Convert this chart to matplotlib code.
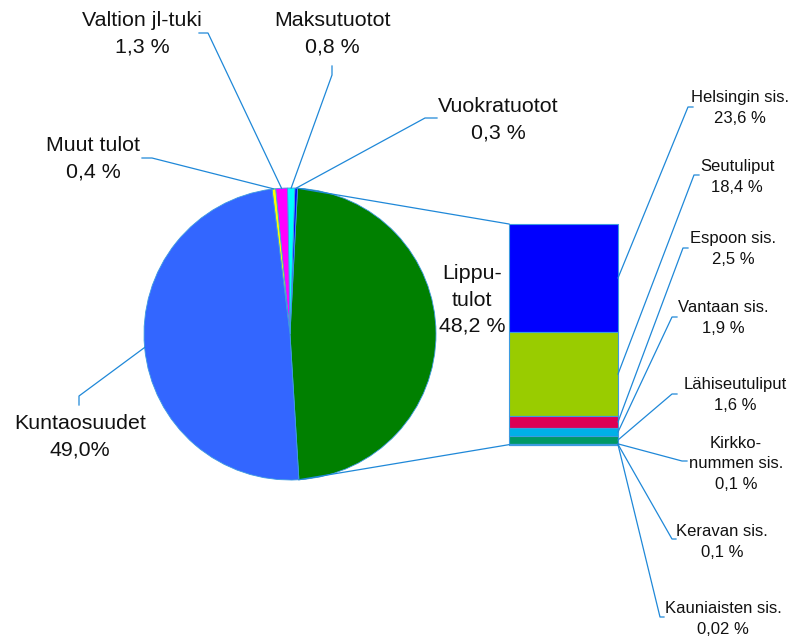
import numpy as np
import matplotlib
matplotlib.use('Agg')
import matplotlib.pyplot as plt

# 饼图数据（从"Lipputulot"开始，依次排列）
pie_labels = ['Lippu-\ntulot', 'Vuokratuotot', 'Maksutuotot', 'Valtion jl-tuki', 'Muut tulot', 'Kuntaosuudet']
pie_values = [48.2, 0.3, 0.8, 1.3, 0.4, 49.0]
pie_texts = ['48,2 %', '0,3 %', '0,8 %', '1,3 %', '0,4 %', '49,0%']
pie_colors = ['#008000', '#0000ff', '#00ffff', '#ff00ff', '#ffff00', '#3366ff']

# 堆叠柱数据（Lipputulot 的分解，从上到下）
bar_labels = ['Helsingin sis.', 'Seutuliput', 'Espoon sis.', 'Vantaan sis.', 'Lähiseutuliput',
              'Kirkko-\nnummen sis.', 'Keravan sis.', 'Kauniaisten sis.']
bar_values = [23.6, 18.4, 2.5, 1.9, 1.6, 0.1, 0.1, 0.02]
bar_texts = ['23,6 %', '18,4 %', '2,5 %', '1,9 %', '1,6 %', '0,1 %', '0,1 %', '0,02 %']
bar_colors = ['#0000ff', '#99cc00', '#dd0055', '#00b0e8', '#009966', '#0070c0', '#0070c0', '#0070c0']

LINE = '#1f88d8'


def main():
    plt.rcParams['font.family'] = ['Liberation Sans', 'DejaVu Sans']
    fig = plt.figure(figsize=(7.93, 6.40), dpi=100)
    ax = fig.add_axes([0, 0, 1, 1])

    # 饼图 —— 坐标为像素，y 轴向下
    cx, cy, r = 290, 334, 146
    start = 86.5
    wedges, _ = ax.pie(pie_values, colors=pie_colors, startangle=start, counterclock=False,
                       center=(cx, cy), radius=r,
                       wedgeprops=dict(edgecolor='#3d9be0', linewidth=0.6))
    ax.set_xlim(0, 793)
    ax.set_ylim(640, 0)
    ax.set_aspect('equal')
    ax.axis('off')

    def edge_point(deg):
        # 数据角度 -> 像素点（y 轴翻转）
        a = np.deg2rad(deg)
        return cx + r * np.cos(a), cy + r * np.sin(a)

    # 饼图标签位置 + 引导线拐点
    pie_pos = [(472, 300), (498, 120), (332, 34), (142, 34), (93, 159), (80, 437)]
    pie_elbow = [None, [(437, 118), (425, 118)], [(332, 66), (332, 75)],
                 [(199, 33), (208, 33)], [(142, 158), (152, 158)], [(79, 405), (79, 396)]]
    for w, lab, txt, pos, elb in zip(wedges, pie_labels, pie_texts, pie_pos, pie_elbow):
        ax.text(pos[0], pos[1], lab + '\n' + txt, ha='center', va='center',
                fontsize=15.4, linespacing=1.5, color='#111111')
        if elb is not None:
            px, py = edge_point((w.theta1 + w.theta2) / 2)
            ax.plot([elb[0][0], elb[1][0], px], [elb[0][1], elb[1][1], py], color=LINE, lw=0.9)

    # 堆叠柱
    bx0, bx1, btop = 509, 618, 224
    scale = 4.576
    heights = np.array(bar_values) * scale
    bottoms = btop + np.concatenate([[0], np.cumsum(heights)[:-1]])
    ax.bar((bx0 + bx1) / 2, heights, width=bx1 - bx0, bottom=bottoms, color=bar_colors,
           edgecolor='#3d9be0', linewidth=0.8)
    bbot = btop + heights.sum()

    # 饼图与柱之间的连接线
    w0 = wedges[0]
    top = edge_point(min(w0.theta1, w0.theta2))
    bottom = edge_point(max(w0.theta1, w0.theta2))
    if top[1] > bottom[1]:
        top, bottom = bottom, top
    ax.plot([top[0], bx0], [top[1], btop], color=LINE, lw=0.9)
    ax.plot([bottom[0], bx0], [bottom[1], bbot], color=LINE, lw=0.9)

    # 柱标签
    bar_pos = [(740, 108), (737, 177), (733, 249), (723, 318), (735, 395),
               (736, 464), (722, 542), (723, 619)]
    bar_elbow = [[(693, 107), (688, 107)], [(699, 175), (694, 175)], [(688, 248), (683, 248)],
                 [(677, 317), (672, 317)], [(677, 394), (672, 394)], [(687, 461), (682, 461)],
                 [(676, 539), (672, 539)], [(664, 617), (660, 617)]]
    for lab, txt, pos, elb, b, h in zip(bar_labels, bar_texts, bar_pos, bar_elbow, bottoms, heights):
        ax.text(pos[0], pos[1], lab + '\n' + txt, ha='center', va='center',
                fontsize=12, linespacing=1.45, color='#111111')
        ax.plot([elb[0][0], elb[1][0], bx1], [elb[0][1], elb[1][1], b + h / 2], color=LINE, lw=0.9)

    fig.savefig('out.png', dpi=100)


if __name__ == '__main__':
    main()
